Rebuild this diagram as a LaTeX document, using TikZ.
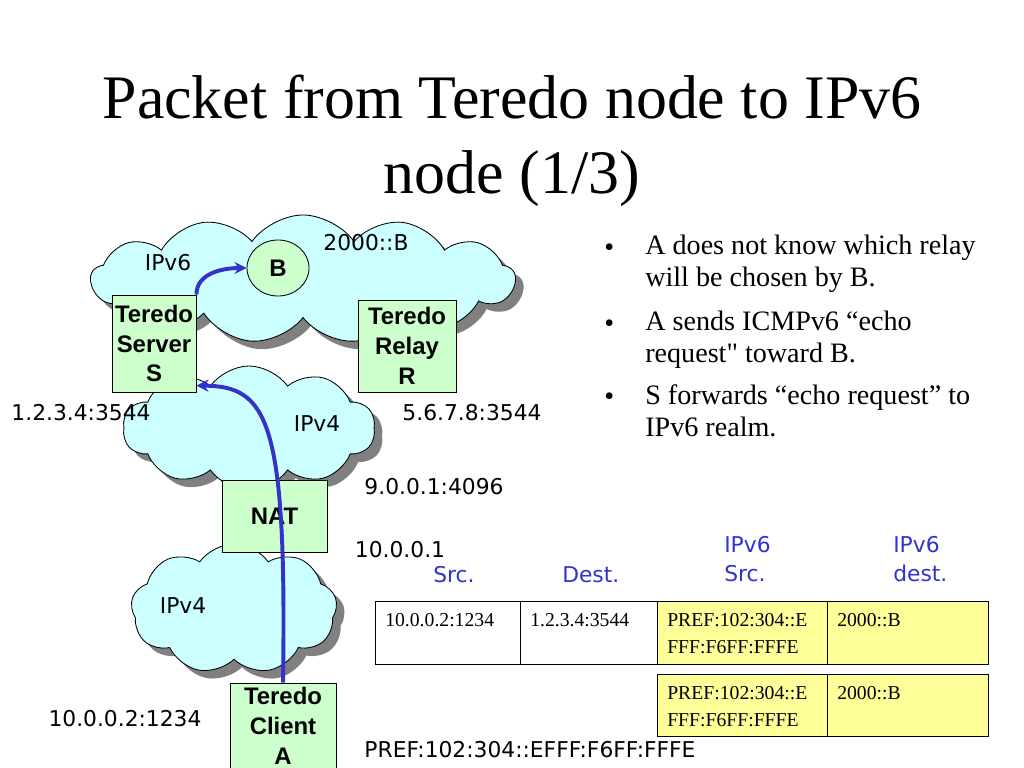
\documentclass[tikz,border=0pt]{standalone}
\usepackage{fontspec}
\setmainfont{Liberation Serif}[Ligatures=TeXOff]
\setsansfont{DejaVu Sans}
\newfontfamily\arialfont{Liberation Sans}
\usepackage{xcolor}
\usepackage{tikz}
\usetikzlibrary{shapes.geometric, shapes.symbols, arrows.meta, shadows, calc}
\definecolor{cloudcyan}{RGB}{204, 255, 255}
\definecolor{boxgreen}{RGB}{204, 255, 204}
\definecolor{cellyellow}{RGB}{255, 255, 153}
\definecolor{pathblue}{RGB}{51, 51, 204}
\tikzstyle{net} = [cloud, cloud puffs=13, cloud puff arc=110, cloud ignores aspect, draw=black, fill=cloudcyan, line width=0.6pt, drop shadow={shadow xshift=0.2cm, shadow yshift=-0.2cm, fill=black!50, opacity=1}]
\tikzstyle{dev} = [draw, fill=boxgreen, align=center, inner sep=0pt, line width=0.6pt, font=\arialfont\bfseries\fontsize{17}{21.3}\selectfont]
\tikzstyle{addr} = [inner sep=0pt, font=\sffamily\fontsize{15.5}{20}\selectfont]
\tikzstyle{hdr} = [addr, text=pathblue, align=left, anchor=west]
\tikzstyle{cell} = [draw, anchor=north west, line width=0.6pt]
\tikzstyle{celltext} = [anchor=north west, align=left, inner sep=0pt, font=\fontsize{14}{19.5}\selectfont]
\tikzstyle{arrow} = [-{Stealth[length=3mm, width=3mm]}, line width=2.8pt, pathblue]

\begin{document}
\begin{tikzpicture}[x=0.025cm, y=-0.025cm]
    \useasboundingbox (0,0) rectangle (1024,768);

    % Title
    \node[font=\fontsize{44}{53}\selectfont, align=center] (title) at (512,141) {Packet from Teredo node to IPv6\\node (1/3)};

    % Networks
    \node[net, minimum width=10.6cm, minimum height=3.2cm] (v6) at (303,279) {};
    \node[net, cloud puffs=10, minimum width=6.3cm, minimum height=3.1cm] (v4up) at (249,428) {};
    \node[net, cloud puffs=9, minimum width=5.15cm, minimum height=3.25cm] (v4down) at (234,609) {};

    % Teredo nodes
    \node[dev, ellipse, minimum width=1.55cm, minimum height=1.4cm] (B) at (278,268) {B};
    \node[dev, minimum width=2.1cm, minimum height=2.425cm] (S) at (154,343.5) {Teredo\\Server\\S};
    \node[dev, minimum width=2.45cm, minimum height=2.3cm] (R) at (407,346) {Teredo\\Relay\\R};
    \node[dev, minimum width=2.625cm, minimum height=1.8cm] (NAT) at (274.5,516) {NAT};
    \node[dev, minimum width=2.65cm, minimum height=2.125cm] (A) at (283,725.5) {Teredo\\Client\\A};

    % Addresses
    \node[addr] (l6) at (168,263) {IPv6};
    \node[addr] (lB) at (366,243) {2000::B};
    \node[addr] (lS) at (81,413) {1.2.3.4:3544};
    \node[addr] (l4up) at (317,424) {IPv4};
    \node[addr] (lR) at (472,413) {5.6.7.8:3544};
    \node[addr] (lNATout) at (434,487) {9.0.0.1:4096};
    \node[addr] (lNATin) at (400,550) {10.0.0.1};
    \node[addr] (l4down) at (183,606) {IPv4};
    \node[addr] (lA) at (125,719) {10.0.0.2:1234};
    \node[addr] (lA6) at (530,750) {PREF:102:304::EFFF:F6FF:FFFE};

    % Packet path
    \draw[arrow] (A.north) .. controls (287,420) and (268,386) .. ([yshift=0.17cm]S.south east);
    \draw[arrow] (S.north east) to[out=90, in=180] (B.west);

    % Packet headers
    \node[hdr] (hsrc) at (433,575) {Src.};
    \node[hdr] (hdst) at (562,575) {Dest.};
    \node[hdr] (h6src) at (724,559) {IPv6\\Src.};
    \node[hdr] (h6dst) at (893,559) {IPv6\\dest.};

    \foreach \x/\w/\f/\t [count=\i] in {375/3.625/white/10.0.0.2:1234, 520/3.425/white/1.2.3.4:3544, 657/4.25/cellyellow/{PREF:102:304::E\\FFF:F6FF:FFFE}, 827/4.025/cellyellow/2000::B} {
        \node[cell, fill=\f, minimum width=\w cm, minimum height=1.575cm] (p\i) at (\x,601) {};
        \node[celltext] (pt\i) at ($(p\i.north west)+(10,12)$) {\t};
    }
    \foreach \x/\w/\t [count=\i] in {657/4.25/{PREF:102:304::E\\FFF:F6FF:FFFE}, 827/4.025/2000::B} {
        \node[cell, fill=cellyellow, minimum width=\w cm, minimum height=1.55cm] (q\i) at (\x,674) {};
        \node[celltext] (qt\i) at ($(q\i.north west)+(10,12)$) {\t};
    }

    % Notes
    \foreach \y/\t [count=\i] in {235/{A does not know which relay\\will be chosen by B.}, 311/{A sends ICMPv6 “echo\\request" toward B.}, 384/{S forwards “echo request” to\\IPv6 realm.}} {
        \node[anchor=north west, inner sep=0pt, font=\fontsize{20}{22.7}\selectfont] (d\i) at (604,\y+9) {\textbullet};
        \node[anchor=north west, align=left, inner sep=0pt, font=\fontsize{20}{22.7}\selectfont] (n\i) at (645,\y) {\t};
    }
\end{tikzpicture}
\end{document}
